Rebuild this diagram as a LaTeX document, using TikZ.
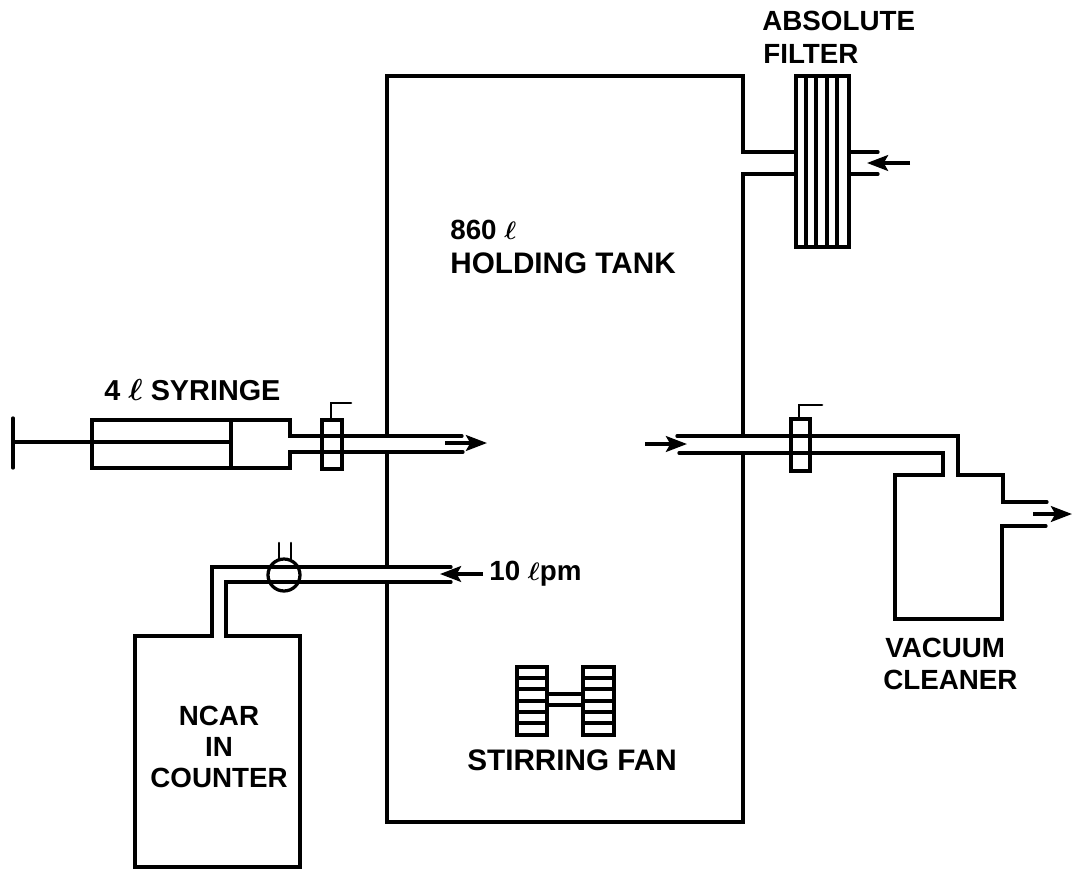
\documentclass[tikz,border=0pt]{standalone}
\usepackage{fontspec}
\usepackage{bm}
\setmainfont{Liberation Sans}
\usetikzlibrary{arrows.meta}

\begin{document}
\begin{tikzpicture}[
    x=0.02cm, y=-0.02cm,
    line/.style={line width=1.85pt, line join=miter, line cap=round},
    thin line/.style={line width=1.5pt, line cap=round},
    arrow/.style={-{Stealth[length=12pt, width=9pt, inset=2.5pt]}, line width=2pt},
    label/.style={font=\fontsize{15.8}{17.8}\selectfont\bfseries, inner sep=0pt, align=center},
    wide label/.style={label, font=\fontsize{16.9}{19}\selectfont\bfseries},
]
    \useasboundingbox (0, 0) rectangle (1072, 869);

    % --- Holding tank ---
    \draw[line] (387, 436) -- (387, 76) -- (743, 76) -- (743, 152) -- (796, 152);
    \draw[line] (796, 174) -- (743, 174) -- (743, 436);
    \draw[line] (743, 453) -- (743, 822) -- (387, 822) -- (387, 582);
    \draw[line] (387, 567) -- (387, 452);
    \node[label, anchor=west] (tank_size) at (450, 230) {860 $\bm{\ell}$};
    \node[wide label, anchor=west] (tank_name) at (450, 263) {HOLDING TANK};

    % --- Absolute filter ---
    \draw[line] (796, 76) rectangle (849, 247);
    \foreach \x in {806, 816, 827, 837}
        \draw[line] (\x, 76) -- (\x, 247);
    \draw[line] (849, 152) -- (878, 152);
    \draw[line] (849, 174) -- (878, 174);
    \draw[arrow] (910, 163) -- (867, 163);
    \node[label, anchor=west] (filter_top) at (762, 21) {ABSOLUTE};
    \node[label, anchor=west] (filter_bottom) at (763, 54) {FILTER};

    % --- Syringe ---
    \draw[line] (13, 418) -- (13, 468);
    \draw[line] (13, 442) -- (231, 442);
    \draw[line] (462, 436) -- (290, 436) -- (290, 420) -- (92, 420) -- (92, 468) -- (290, 468) -- (290, 452) -- (463, 452);
    \draw[line] (231, 420) -- (231, 468);
    \draw[line] (322, 420) rectangle (342, 469);
    \draw[thin line] (331, 420) -- (331, 403) -- (351, 403);
    \draw[arrow] (445, 443) -- (487, 443);
    \node[label, font=\fontsize{16.4}{18}\selectfont\bfseries, anchor=west] (syringe) at (104, 390) {4 $\bm{\ell}$ SYRINGE};

    % --- Counter ---
    \draw[line] (451, 567) -- (212, 567) -- (212, 636) -- (135, 636) -- (135, 867) -- (300, 867) -- (300, 636) -- (226, 636) -- (226, 582) -- (451, 582);
    \draw[line] (284, 575) circle (16);
    \draw[thin line] (279, 559) -- (279, 543);
    \draw[thin line] (291, 559) -- (291, 543);
    \draw[arrow] (483, 574) -- (440, 574);
    \node[label, anchor=west] (flow) at (489, 574) {10 $\bm{\ell}$pm};
    \node[label, font=\fontsize{15.8}{17.6}\selectfont\bfseries] (counter) at (219, 747) {NCAR\\IN\\COUNTER};

    % --- Vacuum cleaner ---
    \draw[line] (677, 436) -- (958, 436) -- (958, 475) -- (1003, 475) -- (1003, 502) -- (1047, 502);
    \draw[line] (679, 453) -- (943, 453) -- (943, 475) -- (895, 475) -- (895, 619) -- (1002, 619) -- (1002, 526) -- (1046, 526);
    \draw[line] (791, 419) rectangle (810, 471);
    \draw[thin line] (799, 419) -- (799, 405) -- (822, 405);
    \draw[arrow] (645, 444) -- (687, 444);
    \draw[arrow] (1033, 514) -- (1072, 514);
    \node[label, anchor=west] (vacuum_top) at (885, 648) {VACUUM};
    \node[label, anchor=west] (vacuum_bottom) at (883, 680) {CLEANER};

    % --- Stirring fan ---
    \draw[line] (517, 667) rectangle (547, 735);
    \draw[line] (583, 667) rectangle (614, 735);
    \foreach \y in {678, 689, 701, 712, 723} {
        \draw[line] (517, \y) -- (547, \y);
        \draw[line] (583, \y) -- (614, \y);
    }
    \draw[line] (547, 694) -- (583, 694);
    \draw[line] (547, 705) -- (583, 705);
    \node[wide label, anchor=west] (fan) at (467, 760) {STIRRING FAN};
\end{tikzpicture}
\end{document}
